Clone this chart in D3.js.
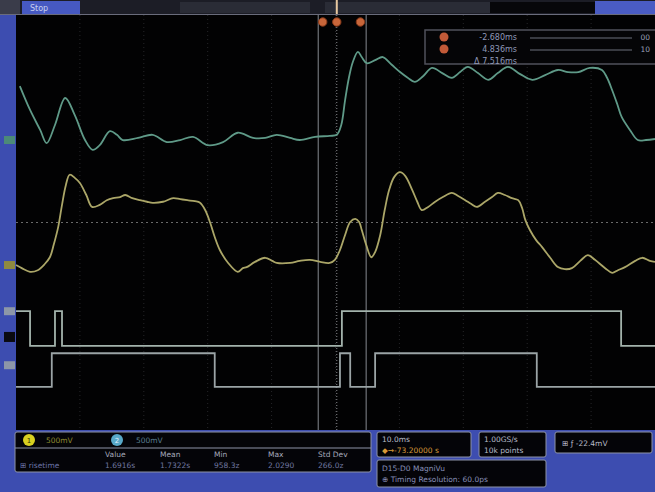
<!DOCTYPE html>
<html><head><meta charset="utf-8">
<script src="https://cdn.jsdelivr.net/npm/d3@7"></script>
<style>
html,body{margin:0;padding:0;background:#3d4db0;}
svg{display:block;font-family:"DejaVu Sans",Arial,sans-serif;}
</style></head>
<body><svg id="c" width="655" height="492"></svg>
<script>
// ---- data (time in ms, amplitude in screen divisions) ----
const ch2Time = [-49.4,-47.8,-46.2,-45.2,-43.9,-42.3,-40.8,-39.2,-38.0,-36.9,-35.3,-34.2,-33.3,-30.9,-28.6,-26.4,-24.3,-22.3,-20.0,-17.6,-15.3,-12.9,-11.0,-9.2,-7.1,-5.6,-3.2,-0.9,0.2,0.9,1.5,2.1,2.7,3.5,4.1,4.9,6.2,7.4,8.8,10.1,11.3,12.4,13.7,15.1,16.7,18.2,19.5,20.7,22.3,23.9,25.4,27.0,28.9,30.8,32.8,34.8,36.4,38.0,39.8,41.7,42.5,43.3,44.1,44.8,46.1,47.3,48.6,50.0];
const ch2Value = [2.63,2.17,1.78,1.53,1.88,2.40,2.07,1.59,1.40,1.49,1.76,1.69,1.59,1.63,1.69,1.55,1.59,1.65,1.49,1.55,1.73,1.63,1.63,1.69,1.63,1.59,1.65,1.67,1.69,1.88,2.36,2.79,3.09,3.29,3.19,3.07,3.13,3.19,3.04,2.90,2.79,2.71,2.82,2.98,2.88,2.79,2.90,3.00,2.88,2.75,2.88,3.00,2.86,2.75,2.84,2.94,2.90,2.90,2.98,2.94,2.79,2.55,2.28,2.03,1.78,1.59,1.59,1.61];

const ch1Time = [-50.0,-49.1,-47.8,-46.6,-45.5,-44.7,-44.1,-43.4,-42.8,-42.2,-41.6,-40.8,-40.0,-39.0,-38.1,-36.9,-35.8,-34.8,-33.7,-32.9,-31.8,-30.6,-29.5,-28.6,-27.0,-25.4,-24.3,-23.2,-22.0,-21.2,-20.4,-19.6,-18.9,-18.1,-16.8,-15.3,-14.5,-13.9,-12.6,-11.0,-9.9,-9.2,-7.1,-5.6,-4.0,-2.4,-0.9,-0.1,0.7,1.5,2.3,3.1,3.7,4.1,4.8,5.6,6.2,7.0,7.7,8.4,9.2,10.1,10.9,12.0,12.8,13.5,14.5,15.6,16.8,18.2,19.2,20.3,21.2,22.1,23.4,24.5,25.4,26.5,27.6,28.6,29.2,29.7,30.4,31.4,32.3,33.6,34.8,35.9,37.0,38.3,39.5,40.6,42.2,43.3,44.2,45.3,46.9,48.0,49.2,50.0];
const ch1Value = [-0.82,-0.88,-0.95,-0.92,-0.80,-0.67,-0.43,-0.09,0.34,0.72,0.92,0.86,0.76,0.53,0.30,0.34,0.43,0.47,0.49,0.53,0.47,0.43,0.40,0.38,0.40,0.47,0.45,0.43,0.41,0.38,0.24,-0.01,-0.28,-0.53,-0.78,-0.95,-0.88,-0.86,-0.76,-0.68,-0.74,-0.78,-0.78,-0.74,-0.72,-0.76,-0.78,-0.72,-0.53,-0.24,0.01,0.07,0.01,-0.14,-0.43,-0.67,-0.57,-0.24,0.24,0.63,0.88,0.97,0.90,0.63,0.40,0.24,0.30,0.40,0.49,0.57,0.51,0.43,0.36,0.30,0.40,0.49,0.57,0.53,0.47,0.43,0.28,0.05,-0.14,-0.34,-0.47,-0.68,-0.86,-0.90,-0.88,-0.74,-0.63,-0.72,-0.88,-0.97,-0.92,-0.86,-0.74,-0.68,-0.74,-0.76];

// digital channels: start state and edge times (ms)
const dA_start = 1, dA_edges = [-47.8,-43.9,-42.8,1.0,44.7];
const dB_start = 0, dB_edges = [-44.4,-18.9,0.7,2.3,6.2,31.5];
const dA_levels = [-2.38,-1.71]; // low, high (div)
const dB_levels = [-3.17,-2.52];

const cursorTimes = [-2.7, 4.8];
const triggerTime = 0.2;
const cursorLabels = ["-2.680ms","4.836ms","\u0394 7.516ms"];
const cursorRight = ["00","10"];
const measHeaders = ["Value","Mean","Min","Max","Std Dev"];
const measValues = ["1.6916s","1.7322s","958.3z","2.0290","266.0z"];

// ---- drawing ----
const svg = d3.select("#c");
const X0=16,X1=655,Y0=15,Y1=430;
const x = d3.scaleLinear().domain([-50,50]).range([X0,X1]);
const y = d3.scaleLinear().domain([-4,4]).range([Y1,Y0]);

// frame background
svg.append("rect").attr("x",0).attr("y",0).attr("width",655).attr("height",492).attr("fill","#3d4db0");
svg.append("rect").attr("x",X0).attr("y",Y0).attr("width",X1-X0).attr("height",Y1-Y0).attr("fill","#020203");

// top bar
svg.append("rect").attr("x",0).attr("y",0).attr("width",655).attr("height",15).attr("fill","#1c1d26");
svg.append("rect").attr("x",0).attr("y",0).attr("width",20).attr("height",15).attr("fill","#3a3c4a");
svg.append("rect").attr("x",180).attr("y",2).attr("width",130).attr("height",11).attr("fill","#2a2c36");
svg.append("rect").attr("x",325).attr("y",2).attr("width",165).attr("height",11).attr("fill","#2a2c36");
svg.append("rect").attr("x",490).attr("y",2).attr("width",105).attr("height",11).attr("fill","#07070a");
svg.append("rect").attr("x",595).attr("y",1).attr("width",60).attr("height",13).attr("fill","#4a5cc4");
svg.append("rect").attr("x",22).attr("y",1).attr("width",58).attr("height",13).attr("fill","#4659c2");
svg.append("text").attr("x",30).attr("y",11).attr("font-size",8).attr("fill","#c8d0f0").text("Stop");
svg.append("line").attr("x1",0).attr("x2",655).attr("y1",14.5).attr("y2",14.5).attr("stroke","#6a6c7c").attr("stroke-width",1);

// grid
const gx = d3.range(-50,51,10), gy = d3.range(-4,5,1);
const grid = svg.append("g");
grid.selectAll(".gv").data(gx.slice(1,-1)).join("line")
  .attr("x1",d=>x(d)).attr("x2",d=>x(d)).attr("y1",Y0).attr("y2",Y1)
  .attr("stroke","#262629").attr("stroke-width",1).attr("stroke-dasharray","1,3");
grid.append("line").attr("x1",X0).attr("x2",X1).attr("y1",y(0)).attr("y2",y(0))
  .attr("stroke","#6a6a6a").attr("stroke-width",1.2).attr("stroke-dasharray","2,3");

// cursors
svg.selectAll(".cur").data(cursorTimes).join("line")
  .attr("x1",d=>x(d)).attr("x2",d=>x(d)).attr("y1",Y0).attr("y2",Y1)
  .attr("stroke","#70737a").attr("stroke-width",1.2);
svg.append("line").attr("x1",x(triggerTime)).attr("x2",x(triggerTime)).attr("y1",Y0).attr("y2",Y1)
  .attr("stroke","#8a8c90").attr("stroke-width",1).attr("stroke-dasharray","1,2");
svg.append("line").attr("x1",x(triggerTime)).attr("x2",x(triggerTime)).attr("y1",0).attr("y2",14)
  .attr("stroke","#e8c8a0").attr("stroke-width",2);
// cursor markers
const markers = [cursorTimes[0]+0.7, triggerTime, cursorTimes[1]-0.9];
svg.selectAll(".mk").data(markers).join("circle")
  .attr("cx",d=>x(d)).attr("cy",22).attr("r",4.2).attr("fill","#c8663a").attr("stroke","#8a3a1a");

// traces
const line = d3.line().x(d=>x(d[0])).y(d=>y(d[1])).curve(d3.curveCatmullRom.alpha(0.5));
svg.append("path").attr("d",line(d3.zip(ch2Time,ch2Value)))
  .attr("fill","none").attr("stroke","#5f9a88").attr("stroke-width",1.8).attr("stroke-linejoin","round");
svg.append("path").attr("d",line(d3.zip(ch1Time,ch1Value)))
  .attr("fill","none").attr("stroke","#aba668").attr("stroke-width",1.8).attr("stroke-linejoin","round");

function digital(start, edges, levels){
  const pts=[[-50,levels[start]]]; let s=start;
  edges.forEach(t=>{ s=1-s; pts.push([t,levels[s]]); });
  pts.push([50,levels[s]]);
  return d3.line().x(d=>x(d[0])).y(d=>y(d[1])).curve(d3.curveStepAfter)(pts);
}
svg.append("path").attr("d",digital(dA_start,dA_edges,dA_levels))
  .attr("fill","none").attr("stroke","#a3b3ac").attr("stroke-width",1.8);
svg.append("path").attr("d",digital(dB_start,dB_edges,dB_levels))
  .attr("fill","none").attr("stroke","#9ba4a6").attr("stroke-width",1.8);

// left channel markers
svg.append("rect").attr("x",4).attr("y",y(ch2Value[ch2Value.length-1]-0.02)-4).attr("width",11).attr("height",8).attr("fill","#4c8a78");
svg.append("rect").attr("x",4).attr("y",y(-0.82)-4).attr("width",11).attr("height",8).attr("fill","#8f8a40");
svg.append("rect").attr("x",4).attr("y",y(dA_levels[1])-4).attr("width",11).attr("height",8).attr("fill","#8d97a8");
svg.append("rect").attr("x",4).attr("y",y(dA_levels[0])-14).attr("width",11).attr("height",10).attr("fill","#0a0a10");
svg.append("rect").attr("x",4).attr("y",y(dB_levels[1])+8).attr("width",11).attr("height",8).attr("fill","#8d97a8");

// cursor readout box
const rb = svg.append("g");
rb.append("rect").attr("x",425).attr("y",30).attr("width",232).attr("height",34).attr("fill","#050507").attr("stroke","#50525c").attr("stroke-width",1.5);
[37,49].forEach((yy,i)=>{
  rb.append("circle").attr("cx",444).attr("cy",yy).attr("r",4.5).attr("fill","#c25a38");
  rb.append("line").attr("x1",530).attr("x2",632).attr("y1",yy+1).attr("y2",yy+1).attr("stroke","#4a4c56").attr("stroke-width",1.5);
  rb.append("text").attr("x",650).attr("y",yy+3).attr("text-anchor","end").attr("font-size",7.5).attr("fill","#9aa0b8").text(cursorRight[i]);
});
cursorLabels.forEach((t,i)=>{
  rb.append("text").attr("x",517).attr("y",40+i*12).attr("text-anchor","end").attr("font-size",8).attr("fill","#8f98b8").text(t);
});

// bottom measurement panel
const bp = svg.append("g").attr("font-size",7.5);
bp.append("rect").attr("x",15).attr("y",432).attr("width",356).attr("height",40).attr("rx",2).attr("fill","#040408").attr("stroke","#8d93a8").attr("stroke-width",1);
bp.append("line").attr("x1",15).attr("x2",371).attr("y1",448).attr("y2",448).attr("stroke","#8d93a8").attr("stroke-width",1);
bp.append("circle").attr("cx",29).attr("cy",440).attr("r",6).attr("fill","#d8d020");
bp.append("text").attr("x",29).attr("y",443).attr("text-anchor","middle").attr("font-size",7).attr("fill","#303000").text("1");
bp.append("text").attr("x",46).attr("y",443).attr("fill","#8e8a30").text("500mV");
bp.append("circle").attr("cx",117).attr("cy",440).attr("r",6).attr("fill","#58a8c8");
bp.append("text").attr("x",117).attr("y",443).attr("text-anchor","middle").attr("font-size",7).attr("fill","#e0f0ff").text("2");
bp.append("text").attr("x",136).attr("y",443).attr("fill","#5a7e90").text("500mV");
const colX = [105,160,214,268,318];
measHeaders.forEach((h,i)=>bp.append("text").attr("x",colX[i]).attr("y",457).attr("fill","#a6aabb").text(h));
bp.append("text").attr("x",20).attr("y",468).attr("fill","#6c74a8").text("\u229E  risetime");
measValues.forEach((v,i)=>bp.append("text").attr("x",colX[i]).attr("y",468).attr("fill","#7078a0").text(v));

// right info boxes
function box(x0,y0,w,h){ svg.append("rect").attr("x",x0).attr("y",y0).attr("width",w).attr("height",h).attr("rx",2).attr("fill","#040408").attr("stroke","#8d93a8").attr("stroke-width",1); }
box(377,432,94,25); box(479,432,67,25); box(377,460,169,27); box(555,432,97,21);
const tg = svg.append("g").attr("font-size",7.5);
tg.append("text").attr("x",382).attr("y",442).attr("fill","#b8bcc8").text("10.0ms");
tg.append("text").attr("x",382).attr("y",453).attr("fill","#d89a38").text("\u25C6\u2192-73.20000 s");
tg.append("text").attr("x",484).attr("y",442).attr("fill","#b8bcc8").text("1.00GS/s");
tg.append("text").attr("x",484).attr("y",453).attr("fill","#b8bcc8").text("10k points");
tg.append("text").attr("x",382).attr("y",471).attr("fill","#8890b8").text("D15-D0 MagniVu");
tg.append("text").attr("x",382).attr("y",482).attr("fill","#8890b8").text("\u2295 Timing Resolution: 60.0ps");
tg.append("text").attr("x",562).attr("y",446).attr("fill","#b8bcc8").text("\u229E \u0192  -22.4mV");
</script></body></html>
